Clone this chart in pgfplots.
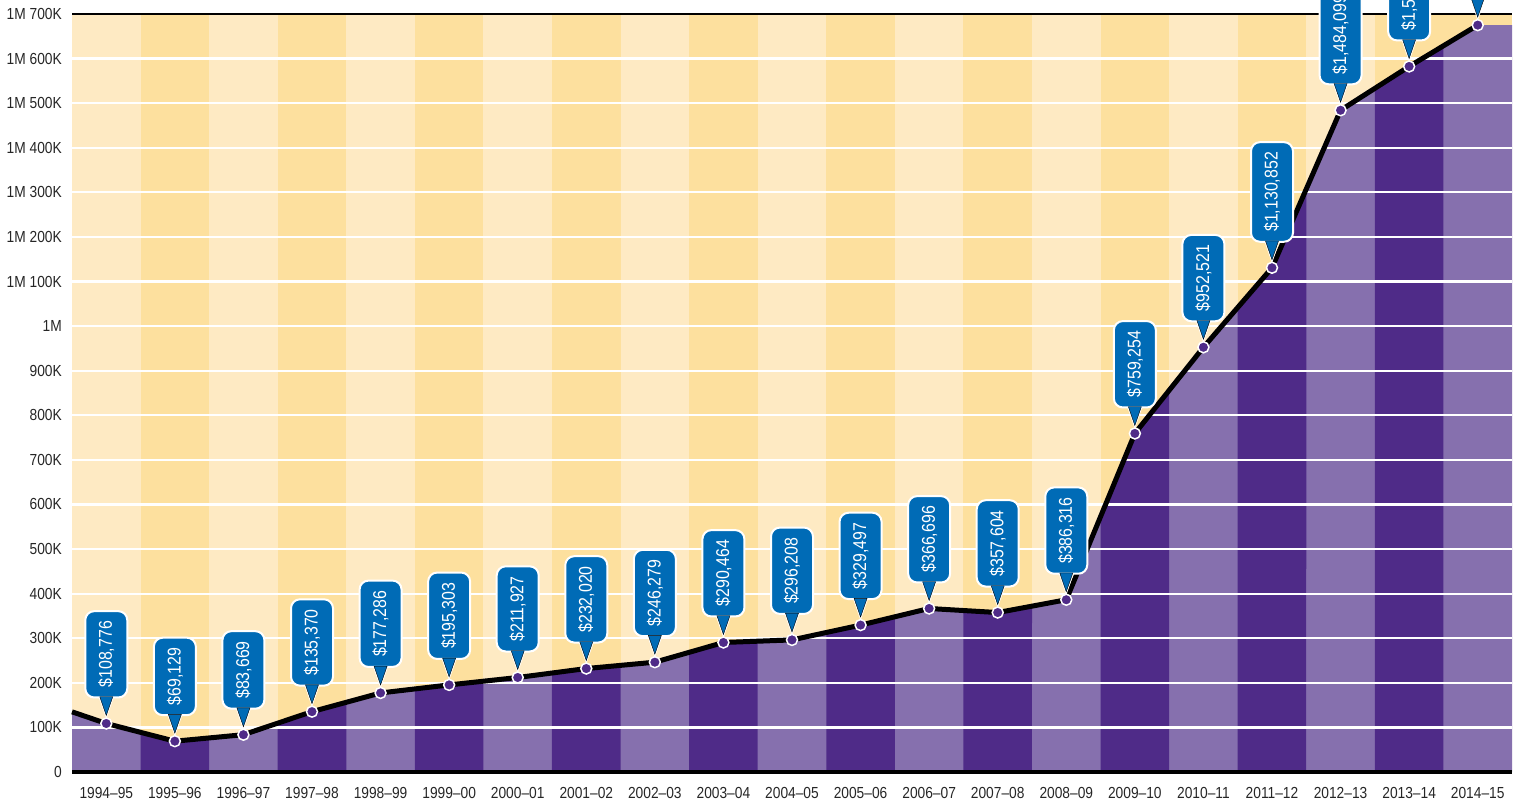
\documentclass[border=0pt]{standalone}
\usepackage{pgfplots}
\pgfplotsset{compat=1.18}
\usepgfplotslibrary{fillbetween}
\usepackage{fontspec}
\setmainfont{Liberation Sans}[FakeStretch=0.86]
\definecolor{lyellow}{HTML}{FEEAC3}
\definecolor{dyellow}{HTML}{FDE09E}
\definecolor{lpurple}{HTML}{8670AE}
\definecolor{dpurple}{HTML}{4F2B88}
\definecolor{cblue}{HTML}{006BB6}
\tikzset{
  callout/.style={
    rectangle, rounded corners=9bp, fill=cblue, draw=white, line width=2bp,
    text=white, inner xsep=2bp, inner ysep=10bp, minimum width=42bp,
    anchor=south, yshift=25bp,
    font=\fontsize{18.5bp}{21bp}\selectfont,
  }
}
\begin{document}
\begin{tikzpicture}
\begin{axis}[
  at={(0,0)}, anchor=south west,
  width=1440bp, height=758bp, scale only axis,
  clip=false,
  xmin=-0.5, xmax=20.5, ymin=0, ymax=1700000,
  axis line style={draw=none},
  axis background/.style={fill=lyellow},
  major tick length=0pt,
  scaled y ticks=false,
  ytick={0,100000,200000,300000,400000,500000,600000,700000,800000,900000,1000000,1100000,1200000,1300000,1400000,1500000,1600000,1700000},
  yticklabels={0,100K,200K,300K,400K,500K,600K,700K,800K,900K,1M,1M 100K,1M 200K,1M 300K,1M 400K,1M 500K,1M 600K,1M 700K},
  xtick={0,...,20},
  xticklabels={1994--95,1995--96,1996--97,1997--98,1998--99,1999--00,2000--01,2001--02,2002--03,2003--04,2004--05,2005--06,2006--07,2007--08,2008--09,2009--10,2010--11,2011--12,2012--13,2013--14,2014--15},
  tick label style={font=\fontsize{16bp}{19bp}\selectfont, text=black!85},
  yticklabel style={anchor=east, inner sep=0pt, xshift=-10bp},
  xticklabel style={anchor=north, inner sep=0pt, yshift=-15bp},
  /pgf/number format/assume math mode=true,
]
% helper paths
\addplot[draw=none, name path=top, forget plot] coordinates {(-0.5,1700000) (20.5,1700000)};
\addplot[draw=none, name path=bot, forget plot] coordinates {(-0.5,0) (20.5,0)};
\addplot[draw=none, name path=upper, forget plot] coordinates {
(-0.5,135000) (0,108776) (1,69129) (2,83669) (3,135370) (4,177286) (5,195303) (6,211927) (7,232020) (8,246279) (9,290464) (10,296208) (11,329497) (12,366696) (13,357604) (14,386316) (15,759254) (16,952521) (17,1130852) (18,1484099) (19,1582350) (20,1675000) (20.5,1675000)};
% dark yellow columns
\addplot[dyellow] fill between[of=top and bot, soft clip={domain=0.5:1.5}];
\addplot[dyellow] fill between[of=top and bot, soft clip={domain=2.5:3.5}];
\addplot[dyellow] fill between[of=top and bot, soft clip={domain=4.5:5.5}];
\addplot[dyellow] fill between[of=top and bot, soft clip={domain=6.5:7.5}];
\addplot[dyellow] fill between[of=top and bot, soft clip={domain=8.5:9.5}];
\addplot[dyellow] fill between[of=top and bot, soft clip={domain=10.5:11.5}];
\addplot[dyellow] fill between[of=top and bot, soft clip={domain=12.5:13.5}];
\addplot[dyellow] fill between[of=top and bot, soft clip={domain=14.5:15.5}];
\addplot[dyellow] fill between[of=top and bot, soft clip={domain=16.5:17.5}];
\addplot[dyellow] fill between[of=top and bot, soft clip={domain=18.5:20.5}];
% purple area
\addplot[lpurple] fill between[of=upper and bot];
\addplot[dpurple] fill between[of=upper and bot, soft clip={domain=0.5:1.5}];
\addplot[dpurple] fill between[of=upper and bot, soft clip={domain=2.5:3.5}];
\addplot[dpurple] fill between[of=upper and bot, soft clip={domain=4.5:5.5}];
\addplot[dpurple] fill between[of=upper and bot, soft clip={domain=6.5:7.5}];
\addplot[dpurple] fill between[of=upper and bot, soft clip={domain=8.5:9.5}];
\addplot[dpurple] fill between[of=upper and bot, soft clip={domain=10.5:11.5}];
\addplot[dpurple] fill between[of=upper and bot, soft clip={domain=12.5:13.5}];
\addplot[dpurple] fill between[of=upper and bot, soft clip={domain=14.5:15.5}];
\addplot[dpurple] fill between[of=upper and bot, soft clip={domain=16.5:17.5}];
\addplot[dpurple] fill between[of=upper and bot, soft clip={domain=18.5:19.5}];
% grid lines
\pgfplotsinvokeforeach{1,...,16}{
  \addplot[white, line width=2.2bp, forget plot] coordinates {(-0.5,#100000) (20.5,#100000)};
}
% top and bottom rules
\addplot[black, line width=2.5bp, forget plot] coordinates {(-0.5,1700000) (20.5,1700000)};
\addplot[black, line width=3bp, forget plot] coordinates {(-0.5,0) (20.5,0)};
% main line
\addplot[black, line width=5bp, line join=round] coordinates {
(-0.5,135000) (0,108776) (1,69129) (2,83669) (3,135370) (4,177286) (5,195303) (6,211927) (7,232020) (8,246279) (9,290464) (10,296208) (11,329497) (12,366696) (13,357604) (14,386316) (15,759254) (16,952521) (17,1130852) (18,1484099) (19,1582350) (20,1675000)};
% callout pointers (outlined)
\addplot[only marks, mark=triangle*, mark size=14bp,
  mark options={yshift=21bp, rotate=180, xscale=0.6, fill=cblue, draw=white, line width=1.6bp}, forget plot]
coordinates {(0,108776) (1,69129) (2,83669) (3,135370) (4,177286) (5,195303) (6,211927) (7,232020) (8,246279) (9,290464) (10,296208) (11,329497) (12,366696) (13,357604) (14,386316) (15,759254) (16,952521) (17,1130852) (18,1484099) (19,1582350) (20,1675000)};
% callout boxes
\addplot[only marks, mark=none, draw=none,
  point meta=explicit symbolic,
  nodes near coords={\rotatebox{90}{\pgfplotspointmeta}},
  every node near coord/.style={callout}, forget plot]
coordinates {
(0,108776) [\$108,776]
(1,69129) [\$69,129]
(2,83669) [\$83,669]
(3,135370) [\$135,370]
(4,177286) [\$177,286]
(5,195303) [\$195,303]
(6,211927) [\$211,927]
(7,232020) [\$232,020]
(8,246279) [\$246,279]
(9,290464) [\$290,464]
(10,296208) [\$296,208]
(11,329497) [\$329,497]
(12,366696) [\$366,696]
(13,357604) [\$357,604]
(14,386316) [\$386,316]
(15,759254) [\$759,254]
(16,952521) [\$952,521]
(17,1130852) [\$1,130,852]
(18,1484099) [\$1,484,099]
(19,1582350) [\$1,582,350]
(20,1675000) [\$1,675,000]
};
% callout pointers (fill only, to join box and pointer)
\addplot[only marks, mark=triangle*, mark size=12.5bp,
  mark options={yshift=20.5bp, rotate=180, xscale=0.6, fill=cblue, draw=none}, forget plot]
coordinates {(0,108776) (1,69129) (2,83669) (3,135370) (4,177286) (5,195303) (6,211927) (7,232020) (8,246279) (9,290464) (10,296208) (11,329497) (12,366696) (13,357604) (14,386316) (15,759254) (16,952521) (17,1130852) (18,1484099) (19,1582350) (20,1675000)};
% markers
\addplot[only marks, mark=*, mark size=5.5bp, mark options={fill=dpurple, draw=white, line width=1.5bp}]
coordinates {(0,108776) (1,69129) (2,83669) (3,135370) (4,177286) (5,195303) (6,211927) (7,232020) (8,246279) (9,290464) (10,296208) (11,329497) (12,366696) (13,357604) (14,386316) (15,759254) (16,952521) (17,1130852) (18,1484099) (19,1582350) (20,1675000)};
\end{axis}
\pgfresetboundingbox
\useasboundingbox (-72bp,-34bp) rectangle (1448bp,772bp);
\end{tikzpicture}
\end{document}
